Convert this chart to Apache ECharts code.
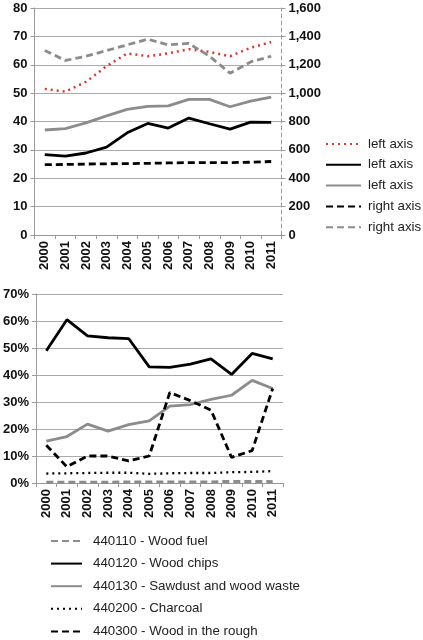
<!DOCTYPE html>
<html><head><meta charset="utf-8">
<script src="https://cdn.jsdelivr.net/npm/echarts@6/dist/echarts.min.js"></script>
<style>html,body{margin:0;padding:0;background:#fff}#c{width:423px;height:640px}</style>
</head><body><div id="c"></div>
<script>
const years = ['2000','2001','2002','2003','2004','2005','2006','2007','2008','2009','2010','2011'];
// top chart
const leftDotted = [51.5,50.5,54,59.5,64,63,64,65.5,64.5,63,66,68];
const leftBlack = [28.3,27.8,28.9,31,36,39.3,37.7,41.2,39.2,37.3,39.8,39.7];
const leftGray = [37,37.5,39.5,42,44.3,45.3,45.5,47.8,47.8,45.2,47.2,48.6];
const rightBlackDash = [496,497,500,502,503,505,508,510,510,510,513,518];
const rightGrayDash = [1300,1230,1260,1300,1340,1380,1340,1350,1260,1140,1220,1260];
const leftTicks = ['0','10','20','30','40','50','60','70','80'];
const rightTicks = ['0','200','400','600','800','1,000','1,200','1,400','1,600'];
// bottom chart (shares, %)
const woodFuel = [0.3,0.3,0.3,0.3,0.4,0.4,0.4,0.4,0.4,0.6,0.6,0.5];
const woodChips = [49,60.5,54.5,53.8,53.5,43,42.8,44,46,40.2,48,46];
const sawdust = [15.5,17.2,21.8,19.2,21.6,23,28.5,29,31,32.5,38,35];
const charcoal = [3.5,3.6,3.7,3.8,3.8,3.4,3.6,3.7,3.7,4,4.1,4.4];
const woodRough = [14,6,10,10,8.2,10,33.5,30.5,27,9.5,12,35];

const FONT = 'Liberation Sans, Arial, sans-serif';
const GRAY = '#8c8c8c';
const RED = '#d23c35';
const axisLbl = {fontFamily: FONT, fontWeight: 'bold', fontSize: 13, color: '#111'};

const chart = echarts.init(document.getElementById('c'), null, {renderer: 'canvas'});
function catAxis(gi){
  return {type:'category', gridIndex:gi, data:years, boundaryGap:true,
    axisLine:{lineStyle:{color:'#999', width:1}},
    axisTick:{show:true, length:4, lineStyle:{color:'#999'}},
    axisLabel:Object.assign({rotate:90, margin:6}, axisLbl)};
}
function ser(name, data, color, width, type, xi, yi){
  return {name, type:'line', xAxisIndex:xi, yAxisIndex:yi, data, symbol:'none', smooth:false,
    lineStyle:{color, width, type, cap:'butt'}, itemStyle:{color}, emphasis:{disabled:true}};
}
chart.setOption({
  animation:false,
  grid:[
    {left:34.5, top:8, width:247, height:227},
    {left:34, top:294, width:249, height:189}
  ],
  xAxis:[catAxis(0), catAxis(1)],
  yAxis:[
    {type:'value', gridIndex:0, min:0, max:80, interval:10,
      axisLine:{show:true, lineStyle:{color:'#999'}},
      axisTick:{show:true, length:4, lineStyle:{color:'#999'}},
      splitLine:{lineStyle:{color:'#aaa', width:1}},
      axisLabel:Object.assign({margin:7, formatter:(v)=>leftTicks[v/10]}, axisLbl)},
    {type:'value', gridIndex:0, position:'right', min:0, max:1600, interval:200,
      axisLine:{show:true, lineStyle:{color:'#999', type:[4,3]}},
      axisTick:{show:true, length:4, lineStyle:{color:'#999'}},
      splitLine:{show:false},
      axisLabel:Object.assign({margin:7, formatter:(v)=>rightTicks[v/200]}, axisLbl)},
    {type:'value', gridIndex:1, min:0, max:70, interval:10,
      axisLine:{show:true, lineStyle:{color:'#999'}},
      axisTick:{show:true, length:4, lineStyle:{color:'#999'}},
      splitLine:{lineStyle:{color:'#aaa', width:1}},
      axisLabel:Object.assign({margin:7, formatter:'{value}%'}, axisLbl)}
  ],
  legend:[
    {orient:'vertical', left:325, top:137.5, padding:0, itemWidth:35, itemHeight:10, itemGap:7.8,
      itemStyle:{opacity:0},
      data:['left axis 1','left axis 2','left axis 3','right axis 1','right axis 2'],
      formatter:(n)=>n.replace(/ \d$/,''),
      textStyle:{fontFamily:FONT, fontSize:13.3, lineHeight:13, color:'#222', padding:[0,0,0,2]}},
    {orient:'vertical', left:50, top:534.5, padding:0, itemWidth:31, itemHeight:10, itemGap:9.6,
      itemStyle:{opacity:0},
      data:['440110 - Wood fuel','440120 - Wood chips','440130 - Sawdust and wood waste','440200 - Charcoal','440300 - Wood in the rough'],
      textStyle:{fontFamily:FONT, fontSize:13.3, lineHeight:13, color:'#222', padding:[0,0,0,6]}}
  ],
  series:[
    ser('left axis 1', leftDotted, RED, 2.5, [2,4], 0, 0),
    ser('left axis 2', leftBlack, '#000', 2.8, 'solid', 0, 0),
    ser('left axis 3', leftGray, GRAY, 2.8, 'solid', 0, 0),
    ser('right axis 1', rightBlackDash, '#000', 2.8, [7,4], 0, 1),
    ser('right axis 2', rightGrayDash, GRAY, 2.8, [7,4], 0, 1),
    ser('440110 - Wood fuel', woodFuel, GRAY, 3, [7,4], 1, 2),
    ser('440120 - Wood chips', woodChips, '#000', 2.8, 'solid', 1, 2),
    ser('440130 - Sawdust and wood waste', sawdust, GRAY, 2.8, 'solid', 1, 2),
    ser('440200 - Charcoal', charcoal, '#000', 2.3, [2,4], 1, 2),
    ser('440300 - Wood in the rough', woodRough, '#000', 2.8, [7,4], 1, 2)
  ]
});
</script></body></html>
